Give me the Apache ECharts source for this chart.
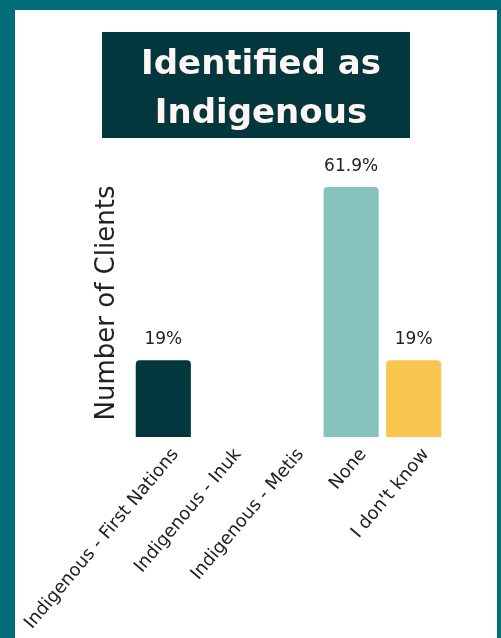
<!DOCTYPE html>
<html>
<head>
<meta charset="utf-8">
<script src="https://cdn.jsdelivr.net/npm/echarts@6/dist/echarts.min.js"></script>
<style>
  html, body { margin: 0; padding: 0; }
  #chart { width: 501px; height: 638px; }
</style>
</head>
<body>
<div id="chart"></div>
<script>
// Survey responses: share of clients by Indigenous identity
const categories = [
  'Indigenous - First Nations',
  'Indigenous - Inuk',
  'Indigenous - Metis',
  'None',
  "I don't know"
];
const values = [19, 0, 0, 61.9, 19];
const barColors = ['#02373D', '#02373D', '#02373D', '#86C3BD', '#F9C74F'];

const chart = echarts.init(document.getElementById('chart'), null, { renderer: 'canvas' });

const labelFont = '"DejaVu Sans", sans-serif';

chart.setOption({
  backgroundColor: '#026D77',
  animation: false,
  graphic: [
    { type: 'rect', shape: { x: 15, y: 10, width: 482, height: 640 }, style: { fill: '#FFFFFF' }, z: -10 },
    { type: 'rect', shape: { x: 102, y: 32, width: 308, height: 106 }, style: { fill: '#02373D' }, z: -5 }
  ],
  title: {
    text: 'Identified as\nIndigenous',
    left: 256,
    top: 36,
    textAlign: 'center',
    textStyle: {
      fontFamily: 'Tahoma, "DejaVu Sans", sans-serif',
      fontWeight: 'bold',
      fontSize: 34,
      lineHeight: 49,
      color: '#FFF5F2'
    }
  },
  grid: { left: 132, right: 56, top: 187, bottom: 201 },
  xAxis: {
    type: 'category',
    data: categories,
    axisLine: { show: false },
    axisTick: { show: false },
    axisLabel: {
      rotate: 50,
      interval: 0,
      margin: 4,
      verticalAlign: 'top',
      padding: [7, 0, 0, 0],
      fontFamily: labelFont,
      fontSize: 18,
      color: '#222222'
    }
  },
  yAxis: {
    type: 'value',
    min: 0,
    max: 'dataMax',
    name: 'Number of Clients',
    nameLocation: 'middle',
    nameGap: 12,
    nameTextStyle: { fontFamily: labelFont, fontSize: 26, color: '#222222', padding: [0, 0, 0, 18] },
    axisLine: { show: false },
    axisTick: { show: false },
    axisLabel: { show: false },
    splitLine: { show: false }
  },
  series: [{
    type: 'bar',
    barWidth: '88%',
    data: values.map((v, i) => ({
      value: v,
      itemStyle: { color: barColors[i] },
      label: { show: v > 0 }
    })),
    itemStyle: { borderRadius: [4, 4, 0, 0] },
    label: {
      position: 'top',
      distance: 12,
      fontFamily: labelFont,
      fontSize: 17,
      color: '#222222',
      formatter: p => p.value + '%'
    }
  }]
});
</script>
</body>
</html>
